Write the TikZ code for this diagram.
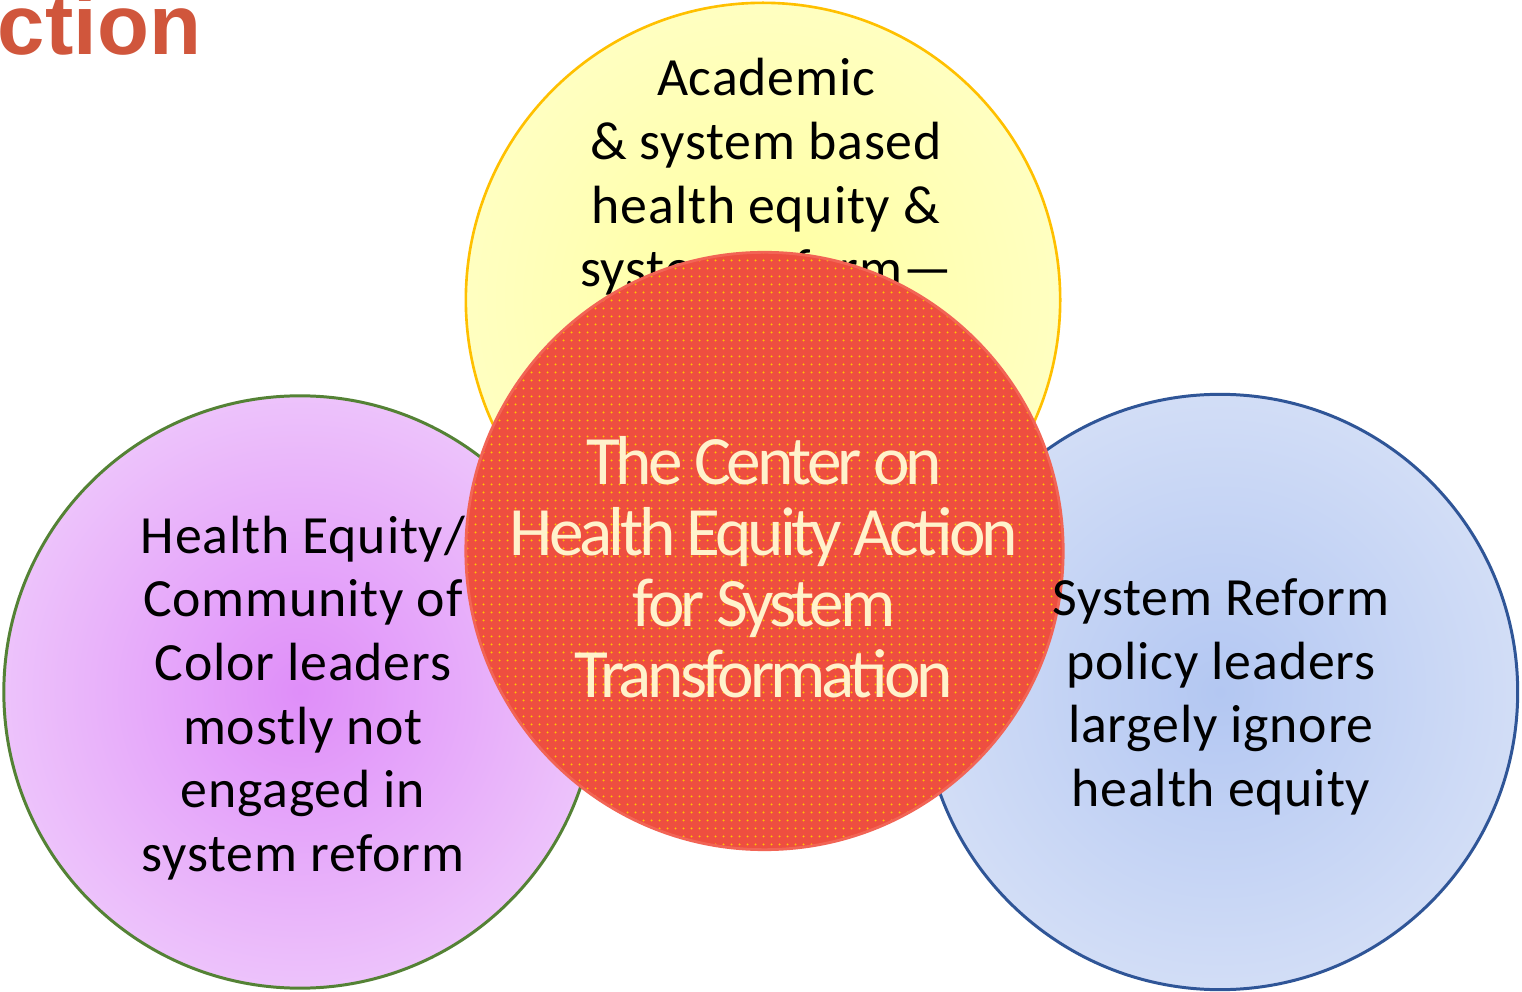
\documentclass[tikz,border=0pt]{standalone}
\usepackage{fontspec}
\setmainfont{Carlito}
\newfontfamily\centerfont[LetterSpace=-6]{Carlito}
\newfontfamily\bodyfont[LetterSpace=1.5]{Carlito}
\newfontfamily\titlefont{Liberation Sans}
\usetikzlibrary{patterns.meta}
\definecolor{ycenter}{HTML}{FFFFA0}
\definecolor{yedge}{HTML}{FFFFC6}
\definecolor{ystroke}{HTML}{FFC000}
\definecolor{pcenter}{HTML}{DF8EF9}
\definecolor{pedge}{HTML}{EFCBFB}
\definecolor{pstroke}{HTML}{548235}
\definecolor{bcenter}{HTML}{B3C7F2}
\definecolor{bedge}{HTML}{D7E1F7}
\definecolor{bstroke}{HTML}{2F5597}
\definecolor{redfill}{HTML}{EE4E40}
\definecolor{rededge}{HTML}{F26455}
\definecolor{dotc}{HTML}{FFC800}
\definecolor{creamtext}{HTML}{FFF2CC}
\definecolor{titlec}{HTML}{D0563C}
\pgfdeclareradialshading{yglow}{\pgfpoint{0bp}{0bp}}{color(0bp)=(ycenter); color(29bp)=(yedge); color(75bp)=(yedge)}
\pgfdeclareradialshading{pglow}{\pgfpoint{0bp}{0bp}}{color(0bp)=(pcenter); color(29bp)=(pedge); color(75bp)=(pedge)}
\pgfdeclareradialshading{bglow}{\pgfpoint{0bp}{0bp}}{color(0bp)=(bcenter); color(29bp)=(bedge); color(75bp)=(bedge)}
\tikzdeclarepattern{
  name=cdots,
  type=uncolored,
  bounding box={(0cm,0cm) and (0.08cm,0.08cm)},
  tile size={(0.08cm,0.08cm)},
  code={\fill (0.04cm,0.04cm) circle (0.012cm);}
}
\tikzset{
  bubble/.style={circle, inner sep=0pt, outer sep=0pt},
  bodytext/.style={align=center, inner sep=0pt, text=black,
    font=\bodyfont\fontsize{15.3pt}{18.1pt}\selectfont},
  coretext/.style={align=center, inner sep=0pt, text=creamtext,
    font=\centerfont\fontsize{19.7pt}{20.2pt}\selectfont}
}
\begin{document}
\begin{tikzpicture}[x=0.01cm, y=-0.01cm]
\useasboundingbox (0,0) rectangle (1522,992);
\fill[white] (0,0) rectangle (1522,992);
\node[anchor=base west, inner sep=0pt, text=titlec, font=\titlefont\bfseries\fontsize{24.2pt}{28pt}\selectfont] (title) at (-3,55) {ction};
% top (yellow)
\node[bubble, minimum size=5.94cm, draw=ystroke, line width=0.75pt, shading=yglow] (academic) at (763,300) {};
\node[bodytext] (academictext) at (766,177) {Academic\\ \& system based\\ health equity \&\\ system reform—};
% left (purple)
\node[bubble, minimum size=5.92cm, draw=pstroke, line width=0.85pt, shading=pglow] (community) at (300,692) {};
% right (blue)
\node[bubble, minimum size=5.95cm, draw=bstroke, line width=0.85pt, shading=bglow] (policy) at (1220,692) {};
% center (red)
\node[bubble, minimum size=5.97cm, preaction={fill=redfill}, pattern=cdots, pattern color=dotc, draw=rededge, line width=0.8pt] (center) at (764.5,551) {};
\node[coretext] (centertext) at (764,567) {The Center on\\ Health Equity Action\\ for System\\ Transformation};
\node[bodytext] (communitytext) at (303,698) {Health Equity/\\ Community of\\ Color leaders\\ mostly not\\ engaged in\\ system reform};
\node[bodytext] (policytext) at (1221,697) {System Reform\\ policy leaders\\ largely ignore\\ health equity};
\end{tikzpicture}
\end{document}
